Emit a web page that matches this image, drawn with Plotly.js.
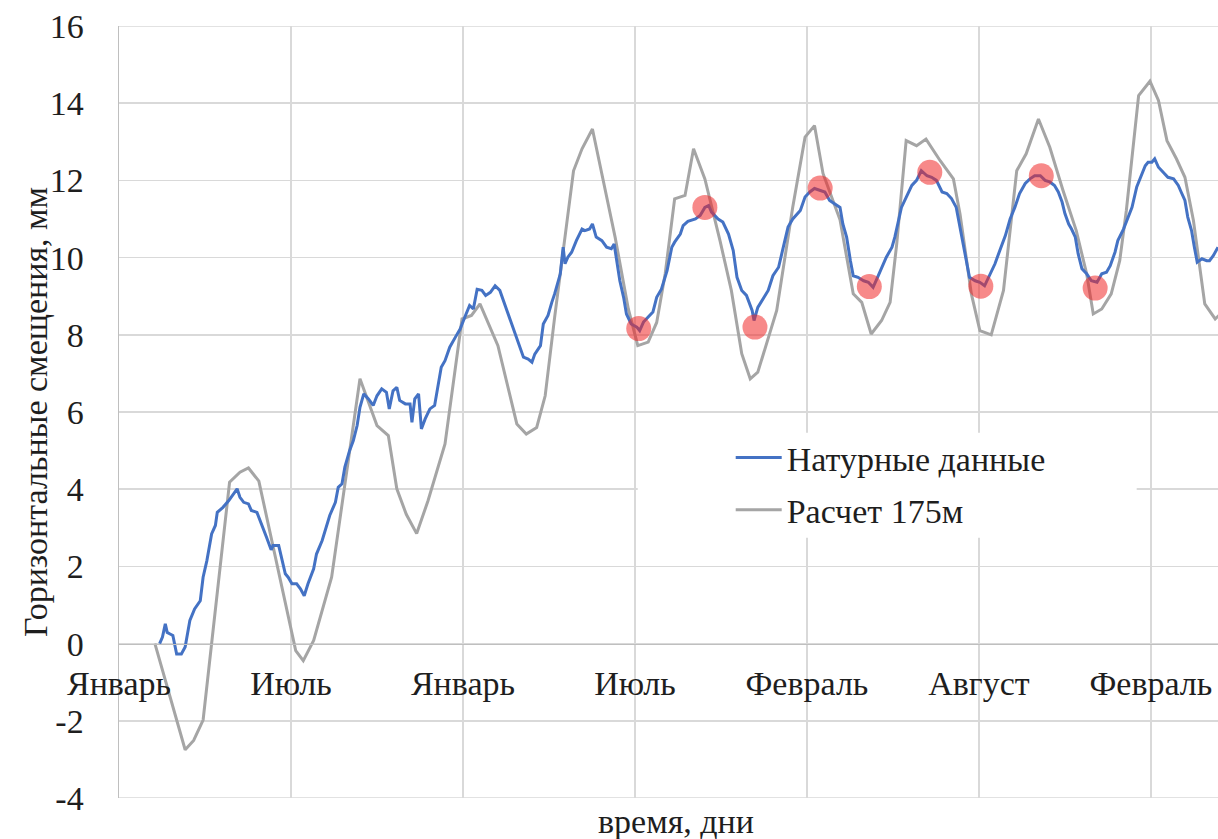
<!DOCTYPE html>
<html>
<head>
<meta charset="utf-8">
<script src="https://cdn.plot.ly/plotly-3.0.1.min.js"></script>
<style>
html,body{margin:0;padding:0;background:#fff}
#chart{width:1218px;height:839px}
#chart text{font-family:"Liberation Serif","Times New Roman",serif !important;}
</style>
</head>
<body>
<div id="chart"></div>
<script>
// x: days since the first "Январь" tick
var xTickVals = [0, 182, 364, 546, 728, 910, 1092];
var xTickText = ["Январь", "Июль", "Январь", "Июль", "Февраль", "Август", "Февраль"];
var yTickVals = [-4, -2, 0, 2, 4, 6, 8, 10, 12, 14, 16];
var yTickText = ["-4", "-2", "0", "2", "4", "6", "8", "10", "12", "14", "16"];

// Натурные данные
var blueDays = [
  43,46,49,51,54,57,61,66,70,75,
  80,86,89,93,98,102,104,110,116,121,
  125,128,132,137,140,146,151,156,161,163,
  169,172,176,179,183,188,192,196,200,206,
  209,215,218,223,229,232,236,239,244,248,
  252,255,259,264,269,273,278,283,286,290,
  294,297,303,308,310,313,317,320,324,329,
  334,338,341,345,350,356,361,366,371,375,
  379,384,388,393,398,403,408,412,416,421,
  424,428,433,437,440,446,449,454,458,461,
  467,470,472,475,479,484,490,493,498,501,
  505,511,516,521,524,527,530,534,537,542,
  548,551,555,560,565,569,574,580,585,588,
  594,597,602,610,615,620,624,627,634,639,
  645,650,654,659,664,670,672,676,682,687,
  692,698,703,708,713,721,726,731,736,742,
  747,752,758,763,766,770,774,777,782,788,
  793,798,802,807,812,818,821,828,833,839,
  844,849,855,860,865,871,876,881,886,890,
  893,897,900,906,911,916,922,927,932,938,
  943,948,953,959,964,969,975,980,985,990,
  994,998,1001,1005,1008,1012,1015,1019,1024,1029,
  1035,1040,1045,1049,1054,1057,1063,1068,1072,1077,
  1082,1086,1089,1093,1096,1100,1105,1110,1116,1121,
  1124,1128,1131,1135,1138,1141,1146,1151,1154,1158,
  1163
];
var blueMm = [
  0.00,0.17,0.51,0.29,0.25,0.21,-0.27,-0.27,-0.09,0.60,
  0.90,1.11,1.72,2.15,2.84,3.06,3.40,3.53,3.70,3.88,
  4.01,3.79,3.66,3.62,3.45,3.40,3.10,2.76,2.43,2.54,
  2.54,2.24,1.81,1.72,1.55,1.55,1.42,1.24,1.55,1.94,
  2.32,2.67,2.93,3.32,3.66,4.05,4.14,4.57,5.00,5.26,
  5.65,6.12,6.47,6.34,6.17,6.42,6.60,6.51,6.08,6.55,
  6.64,6.30,6.21,6.21,5.73,6.34,6.47,5.56,5.82,6.08,
  6.17,6.73,7.16,7.33,7.68,7.94,8.15,8.46,8.76,8.67,
  9.18,9.15,9.02,9.10,9.27,9.15,8.80,8.54,8.28,7.94,
  7.68,7.42,7.37,7.29,7.50,7.72,8.28,8.50,8.84,9.06,
  9.58,10.27,9.84,10.01,10.14,10.44,10.74,10.70,10.74,10.87,
  10.53,10.44,10.27,10.23,10.35,9.92,9.40,8.97,8.54,8.28,
  8.20,8.11,8.33,8.46,8.59,8.97,9.18,9.66,10.27,10.40,
  10.61,10.83,10.94,11.00,11.09,11.30,11.35,11.18,11.00,10.92,
  10.61,10.18,9.49,9.15,9.02,8.63,8.37,8.71,8.97,9.15,
  9.53,9.75,10.27,10.79,11.00,11.22,11.57,11.70,11.79,11.74,
  11.70,11.48,11.39,11.30,10.87,10.53,9.92,9.53,9.49,9.40,
  9.36,9.23,9.45,9.71,10.01,10.27,10.53,11.30,11.57,11.87,
  12.00,12.25,12.12,12.08,12.00,11.70,11.66,11.53,11.30,10.79,
  10.44,9.84,9.49,9.40,9.36,9.27,9.58,9.84,10.18,10.57,
  11.00,11.30,11.66,11.92,12.04,12.12,12.12,12.00,11.96,11.87,
  11.70,11.44,11.14,10.87,10.74,10.53,10.10,9.71,9.58,9.40,
  9.36,9.58,9.62,9.79,10.14,10.44,10.74,11.05,11.30,11.83,
  12.12,12.38,12.47,12.47,12.56,12.34,12.21,12.08,12.04,11.87,
  11.70,11.48,11.05,10.70,10.27,9.88,9.97,9.92,9.92,10.05,
  10.27
];

// Расчет 175м
var grayDays = [
  38,70,79,89,117,128,137,148,187,195,
  206,225,255,273,285,294,304,315,327,345,
  363,373,382,401,421,431,442,451,461,481,
  490,501,525,539,549,560,569,578,588,599,
  608,620,636,648,659,668,676,696,713,726,
  736,745,763,777,786,796,807,816,823,833,
  844,854,869,883,890,902,911,923,936,950,
  960,973,985,999,1013,1024,1031,1040,1050,1059,
  1066,1079,1091,1100,1109,1119,1128,1137,1149,1160,
  1168
];
var grayMm = [
  0.00,-2.75,-2.51,-1.98,4.18,4.44,4.55,4.21,-0.18,-0.44,
  0.08,1.72,6.86,5.65,5.39,4.01,3.35,2.85,3.70,5.17,
  8.41,8.50,8.80,7.72,5.69,5.43,5.60,6.42,8.45,12.25,
  12.82,13.33,10.53,8.67,7.72,7.81,8.32,9.58,11.52,11.61,
  12.82,12.04,10.44,9.15,7.51,6.86,7.03,8.63,11.31,13.12,
  13.42,12.18,10.98,9.06,8.84,8.02,8.37,8.84,10.35,13.03,
  12.90,13.07,12.51,12.04,11.13,9.06,8.11,8.00,9.15,12.25,
  12.69,13.59,12.86,11.74,10.70,9.58,8.54,8.67,9.06,9.92,
  11.22,14.20,14.57,14.07,13.03,12.56,12.08,10.96,8.80,8.41,
  8.60
];

// highlighted extrema
var markDays = [550, 620, 673, 742, 794, 858, 912, 976, 1033];
var markMm = [8.16, 11.30, 8.20, 11.80, 9.25, 12.21, 9.26, 12.12, 9.21];

var FONT = "Liberation Serif";
var FS = 34;
function txt() { return {family: FONT, size: FS, color: "#1e1e1e"}; }

var traces = [
  {x: grayDays, y: grayMm, type: "scatter", mode: "lines", name: "Расчет 175м",
   line: {color: "#A5A5A5", width: 3}, legendrank: 2, legendgroup: "g2"},
  {x: blueDays, y: blueMm, type: "scatter", mode: "lines", name: "Натурные данные",
   line: {color: "#4472C4", width: 3}, legendrank: 1, legendgroup: "g1"},
  {x: markDays, y: markMm, type: "scatter", mode: "markers", showlegend: false,
   marker: {size: 25, color: "rgba(240,40,40,0.55)", line: {width: 0}}}
];

var layout = {
  width: 1218, height: 839,
  margin: {l: 119, r: 0, t: 26, b: 41, pad: 0},
  paper_bgcolor: "#fff", plot_bgcolor: "#fff",
  font: txt(),
  showlegend: true,
  legend: {x: 0.5566, y: 0.478, xanchor: "left", yanchor: "top", itemwidth: 46,
           bgcolor: "rgba(0,0,0,0)", font: txt(), tracegroupgap: 5},
  xaxis: {range: [0, 1163], tickvals: xTickVals, ticktext: xTickText,
          anchor: "free", position: 0.2, showline: true, linecolor: "#BFBFBF", linewidth: 1.5,
          showgrid: true, gridcolor: "#D9D9D9", gridwidth: 1.5, zeroline: false,
          ticks: "", ticklabelstandoff: 9, tickfont: txt(),
          automargin: false, fixedrange: true},
  yaxis: {range: [-4, 16], tickvals: yTickVals, ticktext: yTickText,
          showline: true, linecolor: "#BFBFBF", linewidth: 1.5,
          showgrid: true, gridcolor: "#D9D9D9", gridwidth: 1.5, zeroline: false,
          ticks: "", ticklabelstandoff: 27, tickfont: txt(),
          automargin: false, fixedrange: true},
  shapes: [
    {type: "line", xref: "paper", yref: "y", x0: 0, x1: 1, y0: -4, y1: -4,
     line: {color: "#D9D9D9", width: 1.5}, layer: "below"},
    {type: "line", xref: "paper", yref: "y", x0: 0, x1: 1, y0: 16, y1: 16,
     line: {color: "#D9D9D9", width: 1.5}, layer: "below"},
    {type: "rect", xref: "paper", yref: "paper", x0: 0.472, x1: 0.926, y0: 0.337, y1: 0.473,
     fillcolor: "#fff", line: {width: 0}, layer: "above"}
  ],
  annotations: [
    {text: "время, дни", xref: "paper", yref: "paper", x: 0.507, y: 0, yshift: -23,
     xanchor: "center", yanchor: "middle", showarrow: false, font: txt()},
    {text: "Горизонтальные смещения, мм", xref: "paper", yref: "paper", x: -0.0764, y: 0.5,
     xanchor: "center", yanchor: "middle", textangle: -90, showarrow: false, font: txt()}
  ]
};

Plotly.newPlot("chart", traces, layout, {displayModeBar: false, staticPlot: true});
</script>
</body>
</html>
